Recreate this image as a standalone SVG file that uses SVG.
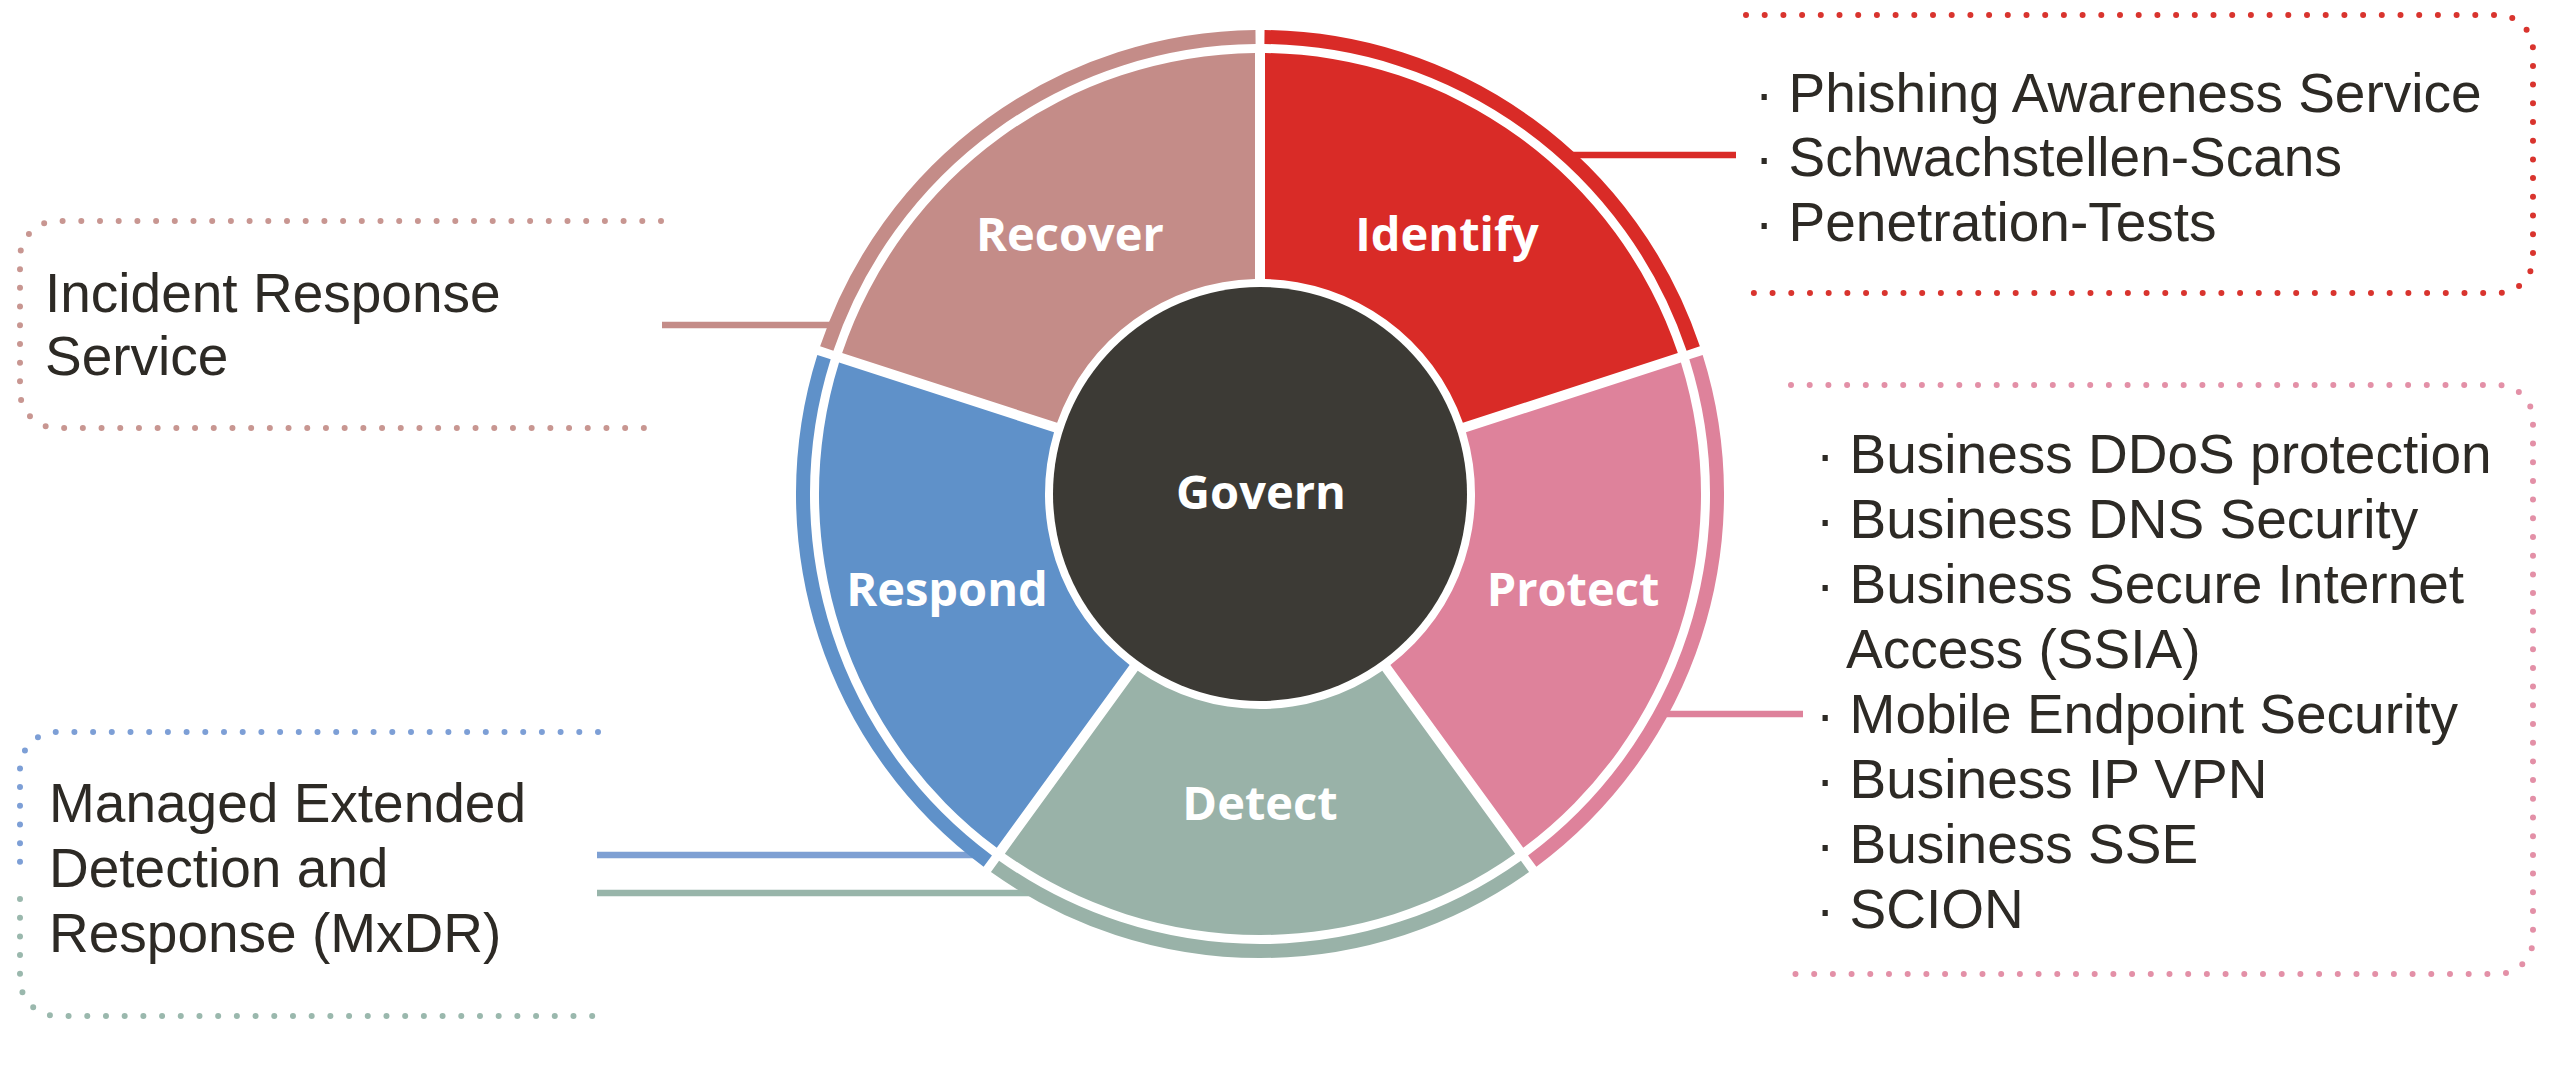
<svg xmlns="http://www.w3.org/2000/svg" width="2551" height="1071" viewBox="0 0 2551 1071">
  <style>
    .lbl { font-family: "Open Sans", "Liberation Sans", sans-serif; font-weight: 700; font-size: 47px; fill: #ffffff; text-anchor: middle; }
    .desc { font-family: "Liberation Sans", Arial, sans-serif; font-weight: 400; font-size: 55px; fill: #2d2a25; }
    .dots { fill: none; stroke-width: 6; stroke-linecap: round; stroke-dasharray: 0 18.7; }
    .ring { fill: none; stroke-width: 14; }
    .conn { fill: none; stroke-width: 6.5; }
  </style>
  <rect x="0" y="0" width="2551" height="1071" fill="#ffffff"/>

  <g id="connectors">
    <line class="conn" x1="1570" y1="155" x2="1736" y2="155" stroke="#d92b27"/>
    <line class="conn" x1="662" y1="325" x2="832" y2="325" stroke="#c48c88"/>
    <line class="conn" x1="1655" y1="714" x2="1803" y2="714" stroke="#de829b"/>
    <line class="conn" x1="597" y1="855" x2="982" y2="855" stroke="#7ea0d3"/>
    <line class="conn" x1="597" y1="893" x2="1040" y2="893" stroke="#98b5aa"/>
  </g>

  <g id="node-identify">
    <path d="M 1265.0 53.03 A 441 441 0 0 1 1677.84 352.97 L 1462.88 422.82 A 215 215 0 0 0 1265.0 279.06 Z" fill="#d92b27"/>
    <path class="ring" d="M 1264.47 37.02 A 457 457 0 0 1 1693.23 348.54" stroke="#d92b27"/>
    <text class="lbl" x="1447" y="251">Identify</text>
  </g>
  <g id="node-protect">
    <path d="M 1680.94 362.49 A 441 441 0 0 1 1523.24 847.81 L 1390.38 664.95 A 215 215 0 0 0 1465.97 432.33 Z" fill="#de829b"/>
    <path class="ring" d="M 1696.0 357.03 A 457 457 0 0 1 1532.22 861.08" stroke="#de829b"/>
    <text class="lbl" x="1573" y="606">Protect</text>
  </g>
  <g id="node-detect">
    <path d="M 1515.15 853.69 A 441 441 0 0 1 1004.85 853.69 L 1137.71 670.83 A 215 215 0 0 0 1382.29 670.83 Z" fill="#99b2a8"/>
    <path class="ring" d="M 1524.99 866.33 A 457 457 0 0 1 995.01 866.33" stroke="#99b2a8"/>
    <text class="lbl" x="1260" y="820">Detect</text>
  </g>
  <g id="node-respond">
    <path d="M 996.76 847.81 A 441 441 0 0 1 839.06 362.49 L 1054.03 432.33 A 215 215 0 0 0 1129.62 664.95 Z" fill="#5f91c9"/>
    <path class="ring" d="M 987.78 861.08 A 457 457 0 0 1 824.0 357.03" stroke="#5f91c9"/>
    <text class="lbl" x="947" y="606">Respond</text>
  </g>
  <g id="node-recover">
    <path d="M 842.16 352.97 A 441 441 0 0 1 1255.0 53.03 L 1255.0 279.06 A 215 215 0 0 0 1057.12 422.82 Z" fill="#c48c88"/>
    <path class="ring" d="M 826.77 348.54 A 457 457 0 0 1 1255.53 37.02" stroke="#c48c88"/>
    <text class="lbl" x="1070" y="251">Recover</text>
  </g>
  <g id="node-govern">
    <circle cx="1260" cy="494" r="207" fill="#3c3a35"/>
    <text class="lbl" x="1261" y="509">Govern</text>
  </g>

  <g id="box-identify">
    <path class="dots" d="M 1746 15 H 2498 A 35 35 0 0 1 2533 50 V 258 A 35 35 0 0 1 2498 293 H 1746" stroke="#d9342e"/>
    <text class="desc" x="1755" y="112">· Phishing Awareness Service</text>
    <text class="desc" x="1755" y="176">· Schwachstellen-Scans</text>
    <text class="desc" x="1755" y="241">· Penetration-Tests</text>
  </g>

  <g id="box-protect">
    <path class="dots" d="M 1791 385 H 2498 A 35 35 0 0 1 2533 420 V 939 A 35 35 0 0 1 2498 974 H 1791" stroke="#e390a7"/>
    <text class="desc" x="1816" y="473">· Business DDoS protection</text>
    <text class="desc" x="1816" y="538">· Business DNS Security</text>
    <text class="desc" x="1816" y="603">· Business Secure Internet</text>
    <text class="desc" x="1846" y="668">Access (SSIA)</text>
    <text class="desc" x="1816" y="733">· Mobile Endpoint Security</text>
    <text class="desc" x="1816" y="798">· Business IP VPN</text>
    <text class="desc" x="1816" y="863">· Business SSE</text>
    <text class="desc" x="1816" y="928">· SCION</text>
  </g>

  <g id="box-recover">
    <path class="dots" d="M 661 221 H 57 A 37 37 0 0 0 20 258 V 391 A 37 37 0 0 0 57 428 H 661" stroke="#c89691"/>
    <text class="desc" x="45" y="312">Incident Response</text>
    <text class="desc" x="45" y="375">Service</text>
  </g>

  <g id="box-respond-detect">
    <path class="dots" d="M 598 732 H 57 A 37 37 0 0 0 20 769 V 880" stroke="#7d9fd6"/>
    <path class="dots" d="M 20 899 V 979 A 37 37 0 0 0 57 1016 H 598" stroke="#9ab8ad"/>
    <text class="desc" x="49" y="822">Managed Extended</text>
    <text class="desc" x="49" y="887">Detection and</text>
    <text class="desc" x="49" y="952">Response (MxDR)</text>
  </g>
</svg>
